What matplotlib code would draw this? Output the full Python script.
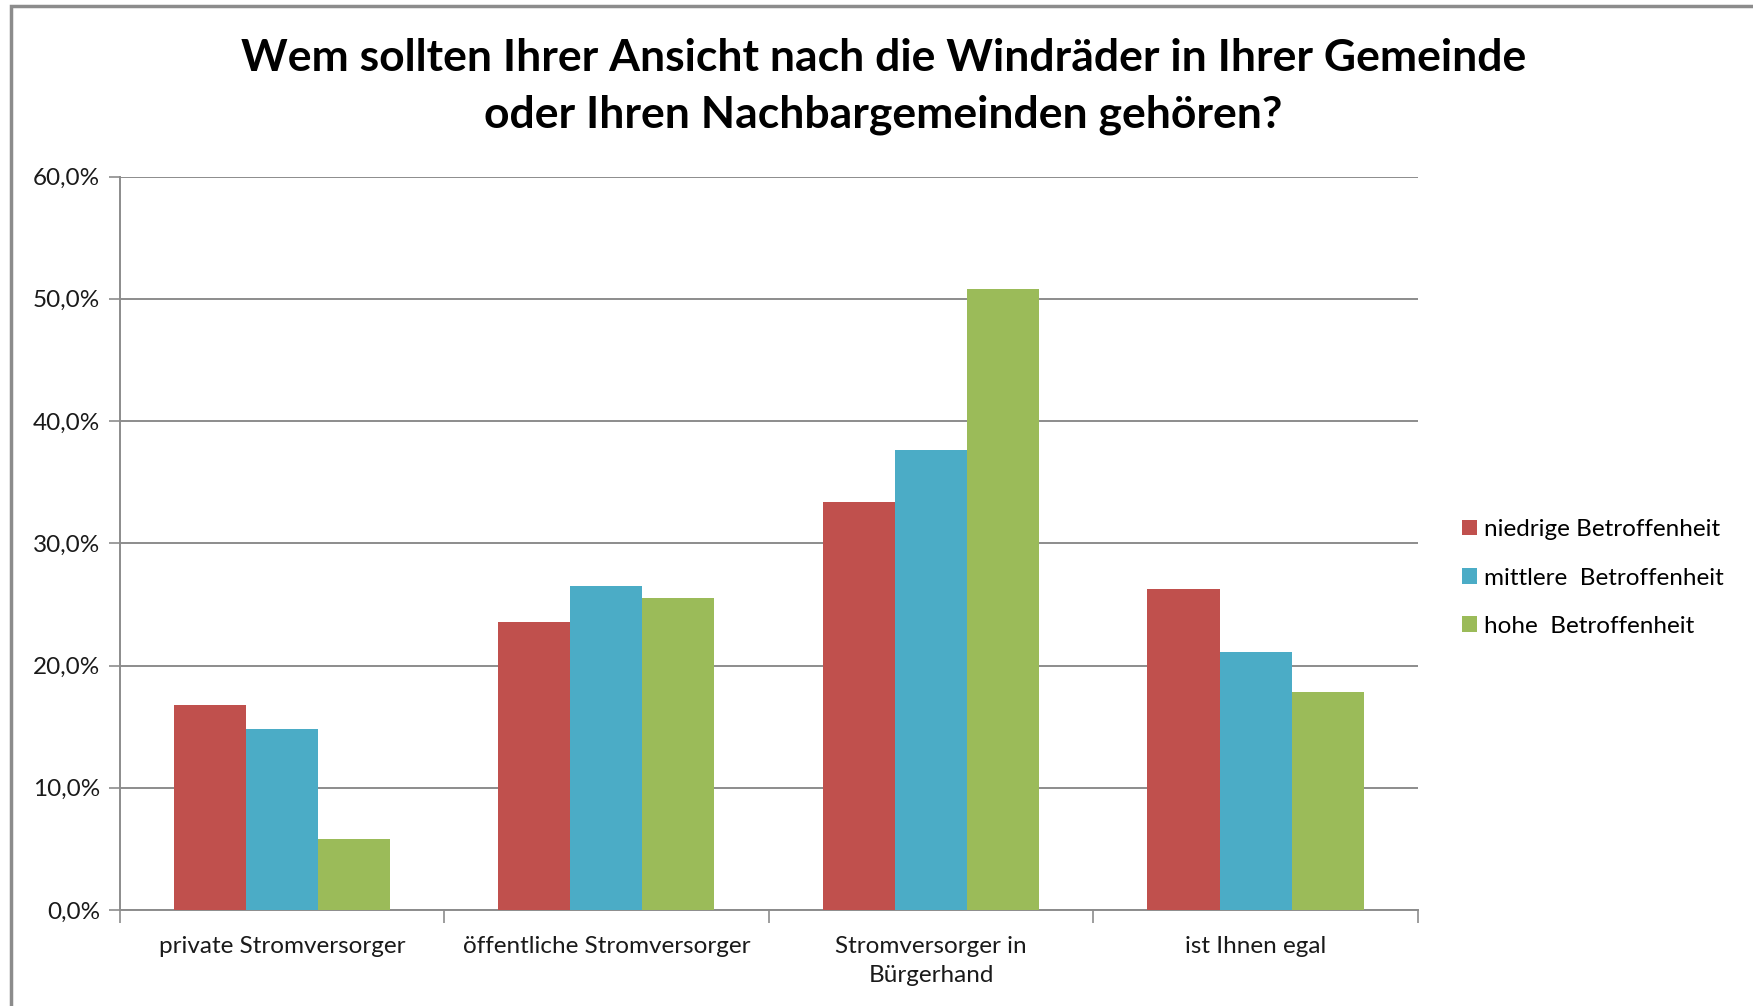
import matplotlib.pyplot as plt
from matplotlib.patches import Rectangle
from matplotlib.ticker import FuncFormatter, FixedLocator
import numpy as np

plt.rcParams['font.family'] = ['Lato', 'DejaVu Sans']

# --- Daten (in Prozent) ---
categories = ['private Stromversorger', 'öffentliche Stromversorger',
              'Stromversorger in\nBürgerhand', 'ist Ihnen egal']
series_names = ['niedrige Betroffenheit', 'mittlere  Betroffenheit', 'hohe  Betroffenheit']
niedrig = [16.8, 23.6, 33.4, 26.3]
mittel = [14.8, 26.5, 37.6, 21.1]
hoch = [5.8, 25.5, 50.8, 17.8]
colors = ['#C0504D', '#4BACC6', '#9BBB59']

title_lines = ['Wem sollten Ihrer Ansicht nach die Windräder in Ihrer Gemeinde',
               'oder Ihren Nachbargemeinden gehören?']

fig = plt.figure(figsize=(17.53, 10.06), dpi=100)
ax = fig.add_axes([0.0682, 0.0954, 0.7406, 0.7291])

x = np.arange(len(categories))
w = 0.222
for j, (vals, name) in enumerate(zip([niedrig, mittel, hoch], series_names)):
    ax.bar(x + (j - 1) * w, vals, width=w, color=colors[j], label=name, zorder=3)

ax.set_xlim(-0.5, len(categories) - 0.5)
ax.set_ylim(0, 60)
ax.set_yticks(np.arange(0, 61, 10))
ax.yaxis.set_major_formatter(FuncFormatter(lambda v, p: f'{v:.1f}%'.replace('.', ',')))
ax.grid(axis='y', color='#8c8c8c', linewidth=1.4, zorder=0)

ax.set_xticks(x)
ax.set_xticklabels(categories, fontsize=17.5, color='#1a1a1a', linespacing=1.45)
ax.xaxis.set_minor_locator(FixedLocator(np.arange(-0.5, len(categories), 1.0)))
ax.tick_params(axis='x', which='major', length=0, pad=19)
ax.tick_params(axis='x', which='minor', length=9, color='#8c8c8c', width=1.2)
ax.tick_params(axis='y', length=8, color='#8c8c8c', width=1.2, labelsize=17.5,
               labelcolor='#1a1a1a', pad=6)

for s in ['top', 'right']:
    ax.spines[s].set_visible(False)
for s in ['left', 'bottom']:
    ax.spines[s].set_color('#8c8c8c')
    ax.spines[s].set_linewidth(1.4)

fig.text(0.504, 0.942, title_lines[0], ha='center', va='center', fontsize=32, fontweight='bold')
fig.text(0.504, 0.886, title_lines[1], ha='center', va='center', fontsize=32, fontweight='bold')

leg = fig.legend(loc='center left', bbox_to_anchor=(0.8342, 0.4254), frameon=False,
                 fontsize=17.5, handlelength=0.6, handleheight=0.6,
                 handletextpad=0.3, labelspacing=1.12, borderpad=0, borderaxespad=0)

# Rahmen um das Diagramm
fig.add_artist(Rectangle((11 / 1753, -0.1), 1.2, 1.1 - 5.5 / 1006,
                         transform=fig.transFigure, fill=False,
                         edgecolor='#8c8c8c', linewidth=2.5))

fig.savefig('out.png', dpi=100)
